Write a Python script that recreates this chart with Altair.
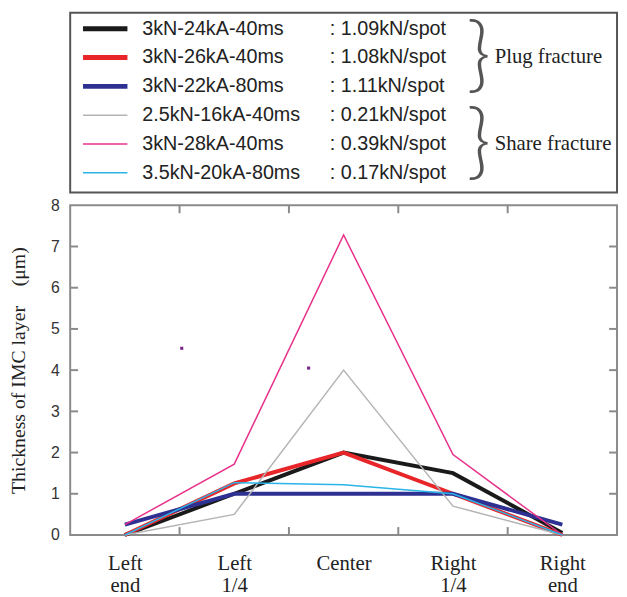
import altair as alt
import pandas as pd

# ---- data ----
categories = [["Left", "end"], ["Left", "1/4"], ["Center"], ["Right", "1/4"], ["Right", "end"]]
positions = [0, 1, 2, 3, 4]

series = ["3kN-24kA-40ms", "3kN-26kA-40ms", "3kN-22kA-80ms",
          "2.5kN-16kA-40ms", "3kN-28kA-40ms", "3.5kN-20kA-80ms"]
strength = [": 1.09kN/spot", ": 1.08kN/spot", ": 1.11kN/spot",
            ": 0.21kN/spot", ": 0.39kN/spot", ": 0.17kN/spot"]
fracture = ["plug", "plug", "plug", "share", "share", "share"]
colors = ["#1a1a1a", "#e8262a", "#2e3192", "#b4b4b4", "#e8308a", "#2ab4e8"]

v_black = [0.0, 1.0, 2.0, 1.5, 0.05]
v_red = [0.0, 1.25, 2.0, 1.0, 0.0]
v_blue = [0.25, 1.0, 1.0, 1.0, 0.25]
v_gray = [0.0, 0.5, 4.0, 0.7, 0.0]
v_pink = [0.25, 1.72, 7.28, 1.95, 0.0]
v_cyan = [0.0, 1.27, 1.22, 1.0, 0.0]
values = [v_black, v_red, v_blue, v_gray, v_pink, v_cyan]

dots_x = [0.52, 1.68]
dots_y = [4.53, 4.05]

y_ticks = [1, 2, 3, 4, 5, 6, 7]
x_ticks = [0.5, 1.5, 2.5, 3.5]

group_names = ["Plug fracture", "Share fracture"]
group_rows = [1, 4]

# ---- tables ----
rows = []
for s, f, vals in zip(series, fracture, values):
    for p, v in zip(positions, vals):
        rows.append({"series": s, "type": f, "pos": p, "val": v})
df = pd.DataFrame(rows)

leg = pd.DataFrame({"series": series, "strength": strength, "type": fracture,
                    "row": list(range(len(series)))})
grp = pd.DataFrame({"name": group_names, "row": group_rows})

W, H = 554, 334
FRAME = "#8a8a8a"

color = alt.Color("series:N", scale=alt.Scale(domain=series, range=colors), legend=None)

# ---- legend panel ----
ly = alt.Y("row:Q", scale=alt.Scale(domain=[-0.55, 5.68], reverse=True), axis=None)
lbase = alt.Chart(leg).encode(y=ly)
l_lines = lbase.mark_rule().encode(
    x=alt.value(13), x2=alt.value(58), color=color,
    size=alt.Size("type:N", scale=alt.Scale(domain=["plug", "share"], range=[5, 1.5]), legend=None))
l_names = lbase.mark_text(align="left", baseline="middle", font="Liberation Sans",
                          fontSize=20, color="#222").encode(x=alt.value(73), text="series:N")
l_vals = lbase.mark_text(align="left", baseline="middle", font="Liberation Sans",
                         fontSize=20, color="#222").encode(x=alt.value(263), text="strength:N")
gbase = alt.Chart(grp).encode(y=ly)
braces = gbase.mark_text(text="}", align="center", baseline="middle", font="Lato",
                         fontWeight=300, fontSize=84, color="#555").encode(x=alt.value(414))
gnames = gbase.mark_text(align="left", baseline="middle", font="Liberation Serif",
                         fontSize=21, color="#222").encode(x=alt.value(430), text="name:N")
legend_panel = alt.layer(l_lines, l_names, l_vals, braces, gnames).properties(
    width=W, height=182, view=alt.ViewBackground(stroke="#555", strokeWidth=2))

# ---- main plot ----
label_expr = "[" + ",".join("[" + ",".join("'%s'" % t for t in c) + "]" for c in categories) + "][datum.value]"
xscale = alt.Scale(domain=[-0.5, 4.5], nice=False, zero=False)
yscale = alt.Scale(domain=[0, 8], nice=False)
x = alt.X("pos:Q", scale=xscale,
          axis=alt.Axis(values=positions, labelExpr=label_expr, title=None, ticks=False,
                        domain=False, grid=False, labelFont="Liberation Serif", labelFontSize=21,
                        labelColor="#222", labelPadding=29, labelLineHeight=22, labelBaseline="middle"))
y = alt.Y("val:Q", scale=yscale,
          axis=alt.Axis(values=list(range(9)),
                        title="Thickness of IMC layer\u00a0\u00a0\u00a0\u00a0(\u03bcm)",
                        ticks=False, domain=False, grid=False, labelFont="Liberation Sans",
                        labelFontSize=16, labelColor="#333", labelPadding=11,
                        titleFont="Liberation Serif", titleFontSize=20, titleFontWeight="normal",
                        titleColor="#222", titlePadding=22))

base = alt.Chart(df).encode(x=x, y=y, color=color, detail="series:N")
thick = base.transform_filter("datum.type == 'plug'").mark_line(strokeWidth=4, strokeJoin="miter")
thin = base.transform_filter("datum.type == 'share'").mark_line(strokeWidth=1.5)

ytk = pd.DataFrame({"val": y_ticks})
xtk = pd.DataFrame({"pos": x_ticks})
tick_l = alt.Chart(ytk).mark_rule(color=FRAME, strokeWidth=2).encode(
    y=alt.Y("val:Q"), x=alt.value(0), x2=alt.value(8))
tick_r = alt.Chart(ytk).mark_rule(color=FRAME, strokeWidth=2).encode(
    y=alt.Y("val:Q"), x=alt.value(W - 8), x2=alt.value(W))
tick_t = alt.Chart(xtk).mark_rule(color=FRAME, strokeWidth=2).encode(
    x=alt.X("pos:Q"), y=alt.value(0), y2=alt.value(8))
tick_b = alt.Chart(xtk).mark_rule(color=FRAME, strokeWidth=2).encode(
    x=alt.X("pos:Q"), y=alt.value(H - 8), y2=alt.value(H))

dots = alt.Chart(pd.DataFrame({"pos": dots_x, "val": dots_y})).mark_square(
    size=10, color="#7a2a8a", opacity=1).encode(x=alt.X("pos:Q"), y=alt.Y("val:Q"))

main = alt.layer(thick, thin, tick_l, tick_r, tick_t, tick_b, dots).properties(
    width=W, height=H, view=alt.ViewBackground(stroke=FRAME, strokeWidth=2))

chart = alt.vconcat(legend_panel, main, spacing=13, bounds="flush").properties(
    padding={"left": 0, "top": 0, "right": 0, "bottom": 0}
).configure(background="white")

chart.save("out.html", embed_options={"renderer": "svg", "actions": False})
